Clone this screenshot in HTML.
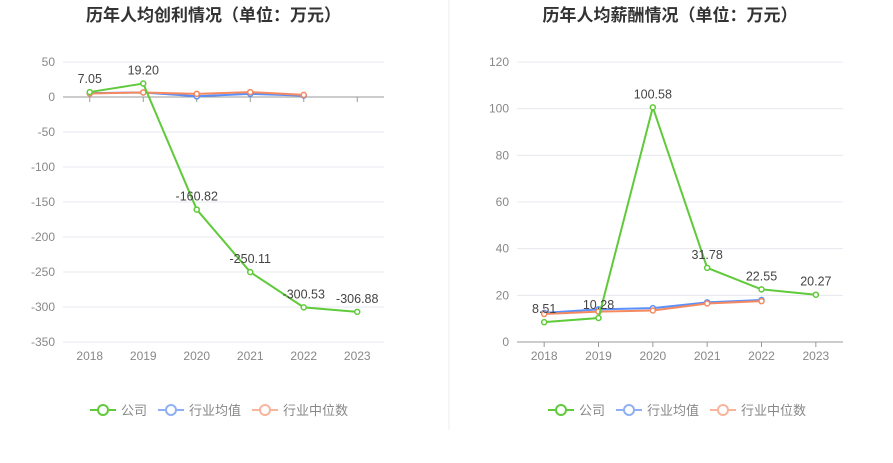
<!DOCTYPE html>
<html><head><meta charset="utf-8"><style>
body{margin:0;background:#fff;font-family:"Liberation Sans","Noto Sans CJK SC",sans-serif}
svg text{font-family:"Liberation Sans","Noto Sans CJK SC",sans-serif}
</style></head><body>
<svg id="c" width="893" height="458" xmlns="http://www.w3.org/2000/svg">
<line x1="449" y1="0" x2="449" y2="430" stroke="#eee"/>
</svg>
<script>
const years=["2018","2019","2020","2021","2022","2023"];
const profitCompany=[7.05,19.20,-160.82,-250.11,-300.53,-306.88];
const profitAvg=[5.5,6.5,1,4.5,2];
const profitMedian=[5,6.5,4.5,7,3];
const profitTicks=[50,0,-50,-100,-150,-200,-250,-300,-350];
const salaryCompany=[8.51,10.28,100.58,31.78,22.55,20.27];
const salaryAvg=[12.5,14,14.5,17,18];
const salaryMedian=[12,13,13.5,16.5,17.5];
const salaryTicks=[120,100,80,60,40,20,0];
const svg=document.getElementById('c');
const NS='http://www.w3.org/2000/svg';
function mk(t,a,txt){const e=document.createElementNS(NS,t);for(const k in a)e.setAttribute(k,a[k]);if(txt!=null)e.textContent=txt;svg.appendChild(e);return e;}
function chart(o){
  const yS=v=>o.y0+(o.ymax-v)/(o.ymax-o.ymin)*(o.y1-o.y0);
  const xS=i=>o.xa+(i+0.5)*(o.xb-o.xa)/years.length;
  let t=mk('text',{x:(o.xa+o.xb)/2-10,y:21,'text-anchor':'middle','font-size':17,'font-weight':'bold',fill:'#333'},o.title);
  
  
  o.ticks.forEach(v=>{
    let g=mk('line',{x1:o.xa,x2:o.xb,y1:yS(v),y2:yS(v),stroke:'#e6e8ef'});
    
    
    let l=mk('text',{x:o.xa-8,y:yS(v)+4,'text-anchor':'end','font-size':12,fill:'#888'},String(v));
    
    
  });
  const ay=yS(0);
  let ax=mk('line',{x1:o.xa,x2:o.xb,y1:ay,y2:ay,stroke:'#999'});
  
  
  years.forEach((y,i)=>{
    let tk=mk('line',{x1:xS(i),x2:xS(i),y1:ay,y2:ay+5,stroke:'#999'});
    
    
    let l=mk('text',{x:xS(i),y:o.y1+18,'text-anchor':'middle','font-size':12,fill:'#888'},y);
    
    
  });
  function series(arr,col,name,labels){
    const pts=arr.map((v,i)=>xS(i)+','+yS(v)).join(' ');
    let p=mk('polyline',{points:pts,fill:'none',stroke:col,'stroke-width':2});
    
    
    arr.forEach((v,i)=>{
      let c=mk('circle',{cx:xS(i),cy:yS(v),r:2.5,fill:'#fff',stroke:col,'stroke-width':1.5});
      
      
      if(labels){
        let l=mk('text',{x:xS(i),y:yS(v)-9,'text-anchor':'middle','font-size':12.5,fill:'#444'},v.toFixed(2));
        
        
      }
    });
  }
  series(o.avg,'#5b8ff9','industry-avg',false);
  series(o.med,'#f5895f','industry-median',false);
  series(o.comp,'#5fca3a','company',true);
  const leg=[['公司','#5fca3a'],['行业均值','#8fb0f5'],['行业中位数','#f8b59c']];
  let lx=o.legX;
  leg.forEach(([n,c],k)=>{
    let ln=mk('line',{x1:lx,x2:lx+26,y1:410,y2:410,stroke:c,'stroke-width':2});
    
    
    let cc=mk('circle',{cx:lx+13,cy:410,r:5,fill:'#fff',stroke:c,'stroke-width':2});
    
    
    let tx=mk('text',{x:lx+31,y:415,'font-size':13,fill:'#888'},n);
    
    
    lx+=31+n.length*13+11;
  });
}
chart({id:'profit',title:'历年人均创利情况（单位：万元）',xa:63,xb:384,y0:62,y1:342,ymax:50,ymin:-350,ticks:profitTicks,comp:profitCompany,avg:profitAvg,med:profitMedian,legX:90});
chart({id:'salary',title:'历年人均薪酬情况（单位：万元）',xa:517,xb:843,y0:62,y1:342,ymax:120,ymin:0,ticks:salaryTicks,comp:salaryCompany,avg:salaryAvg,med:salaryMedian,legX:548});
</script>
</body></html>
